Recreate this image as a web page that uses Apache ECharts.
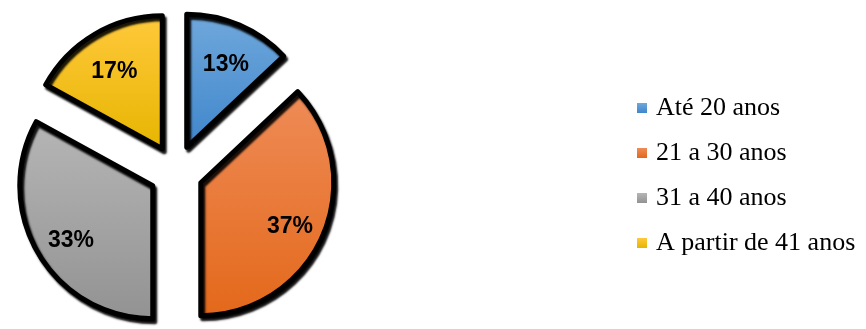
<!DOCTYPE html>
<html>
<head>
<meta charset="utf-8">
<script src="https://cdn.jsdelivr.net/npm/echarts@6/dist/echarts.min.js"></script>
<style>
  html, body { margin: 0; padding: 0; background: #fff; }
  #chart { width: 866px; height: 329px; }
</style>
</head>
<body>
<div id="chart"></div>
<script>
const categories = ['Até 20 anos', '21 a 30 anos', '31 a 40 anos', 'A partir de 41 anos']
const shares = [13, 37, 33, 17]

// top / bottom colour of each slice gradient
const sliceColors = [
  ['#70a8dc', '#3f86cb'],
  ['#ef8c58', '#e3681a'],
  ['#b6b6b6', '#929292'],
  ['#ffc93c', '#e6b500']
]

const chart = echarts.init(document.getElementById('chart'), null, { renderer: 'canvas' })

const center = [176, 172]
const R = 133

function grad(c) {
  return new echarts.graphic.LinearGradient(0, 0, 0, 1, [
    { offset: 0, color: c[0] },
    { offset: 1, color: c[1] }
  ])
}

const pieData = categories.map((name, i) => ({
  name,
  value: shares[i],
  selected: true,
  itemStyle: { color: grad(sliceColors[i]) }
}))

// invisible ring carrying the labels, so they sit further out than the default
const labelData = categories.map((name, i) => ({
  name,
  value: shares[i],
  selected: true
}))

chart.setOption({
  backgroundColor: '#fff',
  animation: false,
  legend: {
    orient: 'vertical',
    left: 632,
    top: 90,
    itemWidth: 10,
    itemHeight: 10,
    itemGap: 19,
    icon: 'rect',
    selectedMode: false,
    itemStyle: { borderWidth: 0, shadowBlur: 0, shadowOffsetX: 0, shadowOffsetY: 0 },
    textStyle: {
      fontFamily: 'Liberation Serif',
      fontSize: 26,
      color: '#000',
      padding: [0, 0, 0, 4]
    },
    data: categories.map((name, i) => ({
      name,
      itemStyle: { color: grad(sliceColors[i]), borderWidth: 0 }
    }))
  },
  series: [
    {
      type: 'pie',
      center,
      radius: [0, R],
      startAngle: 90,
      clockwise: true,
      selectedMode: 'multiple',
      selectedOffset: 27,
      silent: true,
      label: { show: false },
      labelLine: { show: false },
      itemStyle: {
        borderColor: '#000',
        borderWidth: 5,
        borderJoin: 'round',
        shadowColor: 'rgba(0,0,0,0.9)',
        shadowBlur: 2,
        shadowOffsetX: 2,
        shadowOffsetY: 3
      },
      emphasis: { disabled: true },
      data: pieData
    },
    {
      type: 'pie',
      center: [177, 178],
      radius: [R * 0.4, R],
      startAngle: 90,
      clockwise: true,
      selectedMode: 'multiple',
      selectedOffset: 27,
      silent: true,
      legendHoverLink: false,
      itemStyle: { color: 'rgba(0,0,0,0)' },
      label: {
        show: true,
        position: 'inside',
        formatter: '{c}%',
        fontFamily: 'Liberation Sans',
        fontWeight: 'bold',
        fontSize: 23,
        color: '#000'
      },
      labelLine: { show: false },
      emphasis: { disabled: true },
      data: labelData
    }
  ]
})
</script>
</body>
</html>
